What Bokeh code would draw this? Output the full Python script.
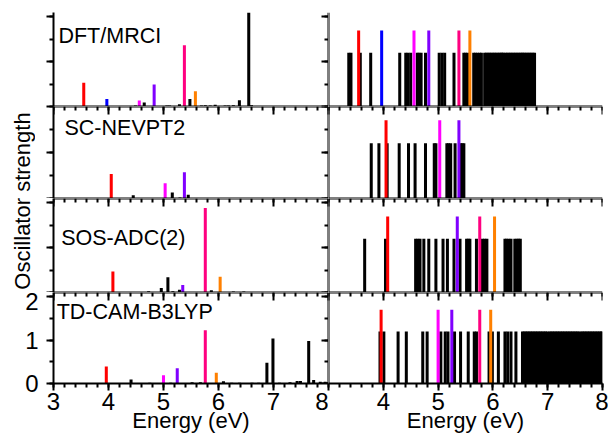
import numpy as np
from bokeh.plotting import figure
from bokeh.models import LinearAxis, SingleIntervalTicker, Range1d, Label
from bokeh.layouts import row, column
from bokeh.embed import file_html
from bokeh.resources import INLINE

FONT = "Liberation Sans"

PALETTE = {"red": "#FF0000", "blue": "#0000FF", "magenta": "#FF00FF",
           "violet": "#8000FF", "pink": "#FF0080", "orange": "#FF8000"}

methods = ["DFT/MRCI", "SC-NEVPT2", "SOS-ADC(2)", "TD-CAM-B3LYP"]

# ---------------- DFT/MRCI ----------------
mrci_bright_e = [3.55, 3.97, 4.56, 4.83, 5.38, 5.58]
mrci_bright_f = [0.53, 0.17, 0.135, 0.49, 1.37, 0.34]
mrci_bright_c = ["red", "blue", "magenta", "violet", "pink", "orange"]
mrci_dark_e = [4.32, 4.49, 4.65, 5.06, 5.11, 5.29, 5.48, 5.69, 5.76, 5.85,
               5.94, 6.12, 6.18, 6.27, 6.38, 6.55, 6.60, 6.68]
mrci_dark_f = [0.01, 0.02, 0.09, 0.02, 0.02, 0.05, 0.17, 0.02, 0.03, 0.02,
               0.04, 0.02, 0.02, 0.03, 0.14, 2.40, 0.03, 0.01]
mrci_states = [3.37, 3.41, 3.58, 3.77, 4.30, 4.41, 4.45, 4.50, 4.62, 4.65,
               4.69, 4.77, 5.02, 5.07, 5.12, 5.29, 5.47, 5.50, 5.54, 5.65,
               5.68, 5.72, 5.76, 5.79, 5.85, 5.88, 5.91, 5.94, 5.97, 6.00,
               6.03, 6.06, 6.09, 6.12, 6.15, 6.17, 6.19, 6.23, 6.26, 6.29,
               6.32, 6.35, 6.38, 6.41, 6.44, 6.47, 6.50, 6.53, 6.55, 6.58,
               6.61, 6.64, 6.67, 6.70, 6.73, 6.76]

# ---------------- SC-NEVPT2 ----------------
nevpt_bright_e = [4.05, 5.03, 5.38]
nevpt_bright_f = [0.53, 0.33, 0.57]
nevpt_bright_c = ["red", "magenta", "violet"]
nevpt_dark_e = [4.45, 5.16, 5.30, 5.45]
nevpt_dark_f = [0.07, 0.13, 0.02, 0.08]
nevpt_states = [3.78, 3.92, 4.07, 4.29, 4.46, 4.58, 4.77, 4.93, 4.96, 5.16,
                5.19, 5.23, 5.31, 5.41, 5.44, 5.47]

# ---------------- SOS-ADC(2) ----------------
adc_bright_e = [4.08, 5.35, 5.76, 6.03]
adc_bright_f = [0.47, 0.17, 1.89, 0.35]
adc_bright_c = ["red", "violet", "pink", "orange"]
adc_dark_e = [4.73, 4.96, 5.08, 5.17, 5.29, 5.52, 5.70, 5.87, 6.27, 6.46]
adc_dark_f = [0.03, 0.10, 0.34, 0.03, 0.06, 0.01, 0.01, 0.05, 0.02, 0.02]
adc_states = [3.66, 4.04, 4.59, 4.63, 4.67, 4.74, 4.83, 4.96, 5.09, 5.17,
              5.29, 5.40, 5.52, 5.55, 5.58, 5.70, 5.81, 5.85, 5.89, 6.22,
              6.25, 6.29, 6.33, 6.40, 6.44, 6.47, 6.50]

# ---------------- TD-CAM-B3LYP ----------------
cam_bright_e = [3.96, 5.00, 5.25, 5.76, 5.96]
cam_bright_f = [0.39, 0.19, 0.35, 1.23, 0.25]
cam_bright_c = ["red", "magenta", "violet", "pink", "orange"]
cam_dark_e = [4.41, 4.75, 5.13, 5.52, 5.67, 6.09, 6.24, 6.38, 6.61, 6.73,
              6.88, 6.99, 7.11, 7.30, 7.43, 7.49, 7.64, 7.73, 7.85, 7.94]
cam_dark_f = [0.09, 0.02, 0.02, 0.03, 0.03, 0.05, 0.02, 0.02, 0.02, 0.02,
              0.48, 1.04, 0.02, 0.03, 0.06, 0.06, 0.98, 0.08, 0.04, 0.04]
cam_states = [3.94, 4.01, 4.27, 4.42, 4.72, 4.80, 5.05, 5.13, 5.18, 5.30,
              5.41, 5.55, 5.66, 5.70, 5.93, 5.99, 6.10, 6.22, 6.27, 6.33,
              6.42, 6.54, 6.57, 6.60, 6.63, 6.66, 6.69, 6.72, 6.75, 6.78,
              6.81, 6.84, 6.87, 6.90, 6.93, 6.96, 6.99, 7.03, 7.06, 7.09,
              7.12, 7.15, 7.18, 7.21, 7.24, 7.27, 7.30, 7.33, 7.36, 7.39,
              7.42, 7.45, 7.48, 7.51, 7.54, 7.57, 7.61, 7.64, 7.67, 7.70,
              7.73, 7.76, 7.79, 7.82, 7.85, 7.88, 7.91, 7.94, 7.97, 7.99]

# stick heights used in the right-hand (state position) panels
STICK_DARK = 1.2
STICK_BRIGHT = 1.7

data = [
    (mrci_bright_e, mrci_bright_f, mrci_bright_c, mrci_dark_e, mrci_dark_f, mrci_states),
    (nevpt_bright_e, nevpt_bright_f, nevpt_bright_c, nevpt_dark_e, nevpt_dark_f, nevpt_states),
    (adc_bright_e, adc_bright_f, adc_bright_c, adc_dark_e, adc_dark_f, adc_states),
    (cam_bright_e, cam_bright_f, cam_bright_c, cam_dark_e, cam_dark_f, cam_states),
]

# ---------------- layout constants ----------------
ROW_YMAX = [2.1, 2.0, 2.1, 2.1]
FRAME_H = [94, 92, 94, 94]
TOP_BORDER = 12
BOTTOM_BORDER = 49
LABEL_W = 35
LEFT_EDGE = 53
LEFT_FRAME_W = 275
RIGHT_FRAME_W = 274
RIGHT_PAD = 6
BAR_W = 0.055
# panel title anchors (left / vertical middle), in data units of each panel
TITLE_POS = [(3.09, 1.586), (3.20, 1.524), (3.14, 1.224), (3.058, 1.649)]


def base_fig(w, h, ymax, bl, br, bt, bb):
    p = figure(width=w, height=h, x_range=Range1d(3, 8), y_range=Range1d(0, ymax),
               output_backend="svg", toolbar_location=None,
               x_axis_location=None, y_axis_location=None,
               min_border_left=bl, min_border_right=br,
               min_border_top=bt, min_border_bottom=bb)
    p.outline_line_color = None
    p.grid.visible = False
    return p


def style_axis(ax, t_in=0, t_out=0, m_in=0, m_out=0, line=True, labels=False,
               standoff=0):
    ax.major_tick_in = t_in
    ax.major_tick_out = t_out
    ax.minor_tick_in = m_in
    ax.minor_tick_out = m_out
    ax.axis_line_color = "black" if line else None
    ax.axis_line_width = 2
    ax.major_tick_line_width = 2
    ax.minor_tick_line_width = 2
    if t_in == 0 and t_out == 0:
        ax.major_tick_line_color = None
    if m_in == 0 and m_out == 0:
        ax.minor_tick_line_color = None
    if labels:
        ax.major_label_text_font = FONT
        ax.major_label_text_font_size = "24px"
        ax.major_label_text_color = "black"
    else:
        ax.major_label_text_color = None
        ax.major_label_text_font_size = "0px"
    ax.major_label_standoff = standoff
    return ax


def inner_axis(ticker, fixed, **kw):
    # axis drawn inside the frame at a fixed data location
    return style_axis(LinearAxis(ticker=ticker, fixed_location=fixed), **kw)


def xticker():
    return SingleIntervalTicker(interval=1, num_minor_ticks=5)


def yticker():
    return SingleIntervalTicker(interval=1, num_minor_ticks=2)


def energy_axis(hide_first=False):
    xa = style_axis(LinearAxis(ticker=xticker()), t_out=7, m_out=4, labels=True,
                    standoff=2)
    if hide_first:
        # the left panel's "8" covers this position
        xa.major_label_overrides = {3: ""}
    xa.axis_label = "Energy (eV)"
    xa.axis_label_text_font = FONT
    xa.axis_label_text_font_size = "22px"
    xa.axis_label_text_font_style = "normal"
    xa.axis_label_text_color = "black"
    xa.axis_label_standoff = -5
    return xa


left_figs, right_figs = [], []
for i, (be, bf, bc, de, df, states) in enumerate(data):
    ymax = ROW_YMAX[i]
    last = i == 3
    first = i == 0
    bt = TOP_BORDER if first else 0
    bb = BOTTOM_BORDER if last else 0
    h = FRAME_H[i] + bt + bb
    lb = LEFT_EDGE if last else LEFT_EDGE - LABEL_W

    # ---- left panel: oscillator strengths ----
    pl = base_fig(lb + LEFT_FRAME_W, h, ymax, lb, 0, bt, bb)
    pl.vbar(x=de, top=df, bottom=0, width=BAR_W, fill_color="black", line_color=None)
    pl.vbar(x=be, top=bf, bottom=0, width=BAR_W,
            fill_color=[PALETTE[c] for c in bc], line_color=None)
    pl.add_layout(style_axis(LinearAxis(ticker=yticker()), t_out=7, m_out=4,
                             labels=last, standoff=8 if last else 0), "left")
    pl.add_layout(inner_axis(yticker(), 8, t_in=7, m_in=4), "right")
    if not first:
        pl.add_layout(inner_axis(xticker(), ymax, t_in=8, m_in=4), "above")
    if last:
        pl.add_layout(energy_axis(), "below")
    else:
        pl.add_layout(inner_axis(xticker(), 0), "below")
    tx, ty = TITLE_POS[i]
    pl.add_layout(Label(x=tx, y=ty, text=methods[i], text_font=FONT,
                        text_font_size="21.5px", text_baseline="middle",
                        text_align="left", text_color="black"))
    left_figs.append(pl)

    # ---- right panel: state positions ----
    pr = base_fig(RIGHT_FRAME_W + RIGHT_PAD, h, ymax, 0, RIGHT_PAD, bt, bb)
    pr.vbar(x=states, top=STICK_DARK, bottom=0, width=BAR_W,
            fill_color="black", line_color=None)
    pr.vbar(x=be, top=STICK_BRIGHT, bottom=0, width=BAR_W,
            fill_color=[PALETTE[c] for c in bc], line_color=None)
    pr.add_layout(inner_axis(yticker(), 3), "left")
    if not first:
        pr.add_layout(inner_axis(xticker(), ymax, t_in=8, m_in=4), "above")
    if last:
        pr.add_layout(energy_axis(hide_first=True), "below")
    else:
        pr.add_layout(inner_axis(xticker(), 0), "below")
    right_figs.append(pr)

# ---- y-axis title spanning the upper rows ----
lab_h = sum(FRAME_H[:3]) + TOP_BORDER
lab = figure(width=LABEL_W, height=lab_h, output_backend="svg", toolbar_location=None,
             x_axis_location=None, y_axis_location=None,
             x_range=Range1d(0, 1), y_range=Range1d(0, 1),
             min_border_left=0, min_border_right=0, min_border_top=0, min_border_bottom=0)
lab.outline_line_color = None
lab.grid.visible = False
lab.add_layout(Label(x=22, y=91.5, x_units="screen", y_units="screen",
                     text="Oscillator strength", angle=np.pi / 2,
                     text_align="center", text_baseline="middle",
                     text_font=FONT, text_font_size="22px", text_color="black"))

top = row(lab, column(*left_figs[:3]), column(*right_figs[:3]))
bottom = row(left_figs[3], right_figs[3])
layout = column(top, bottom)

open("out.html", "w").write(file_html(layout, INLINE))
